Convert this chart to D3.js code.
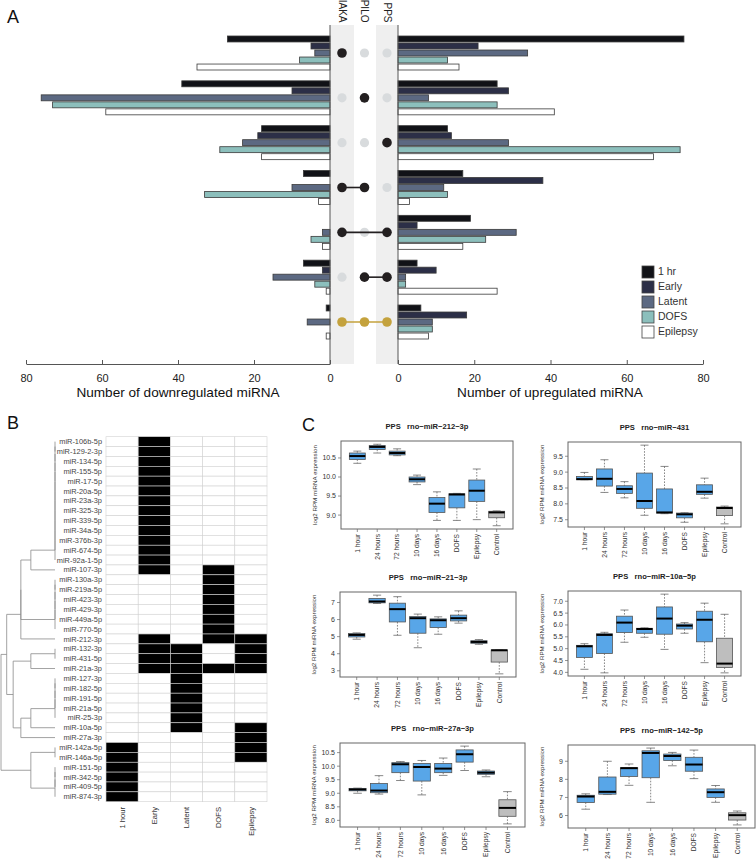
<!DOCTYPE html>
<html><head><meta charset="utf-8">
<script src="https://cdn.jsdelivr.net/npm/d3@7"></script>
<style>
body{margin:0;background:#fff}
svg{display:block}
text{font-family:"Liberation Sans",Arial,Helvetica,sans-serif}
</style>
</head><body>
<svg id="chart" width="756" height="863"></svg>
<script>
// ================= DATA =================
// Panel A
const groups = ["g1","g2","g3","g4","g5","g6","g7"];
const series = ["1 hr","Early","Latent","DOFS","Epilepsy"];
const models = ["IAKA","PILO","PPS"];
const downValues = [
  [27,5,4,8,35],
  [39,10,76,73,59],
  [18,19,23,29,18],
  [7,0,10,33,3],
  [0,0,2,5,2],
  [7,2,15,4,1],
  [1,0,6,0,1]
];
const upValues = [
  [75,21,34,13,16],
  [26,29,8,26,41],
  [13,14,29,74,67],
  [17,38,12,13,3],
  [19,5,31,23,17],
  [5,10,2,2,26],
  [6,18,9,9,8]
];
const membership = [[1,0,0],[0,1,0],[0,0,1],[1,1,0],[1,0,1],[0,1,1],[1,1,1]];
const axisTicks = [0,20,40,60,80];

// Panel B
const mirnas = ["miR-106b-5p","miR-129-2-3p","miR-134-5p","miR-155-5p","miR-17-5p","miR-20a-5p","miR-23a-3p",
  "miR-325-3p","miR-339-5p","miR-34a-5p","miR-376b-3p","miR-674-5p","miR-92a-1-5p","miR-107-3p","miR-130a-3p",
  "miR-219a-5p","miR-423-3p","miR-429-3p","miR-449a-5p","miR-770-5p","miR-212-3p","miR-132-3p","miR-431-5p",
  "miR-21a-3p","miR-127-3p","miR-182-5p","miR-191-5p","miR-21a-5p","miR-25-3p","miR-10a-5p","miR-27a-3p",
  "miR-142a-5p","miR-146a-5p","miR-151-5p","miR-342-5p","miR-409-5p","miR-874-3p"];
const stages = ["1 hour","Early","Latent","DOFS","Epilepsy"];
const presence = [
  [0,1,0,0,0],[0,1,0,0,0],[0,1,0,0,0],[0,1,0,0,0],[0,1,0,0,0],[0,1,0,0,0],[0,1,0,0,0],
  [0,1,0,0,0],[0,1,0,0,0],[0,1,0,0,0],[0,1,0,0,0],[0,1,0,0,0],[0,1,0,0,0],
  [0,1,0,1,0],
  [0,0,0,1,0],[0,0,0,1,0],[0,0,0,1,0],[0,0,0,1,0],[0,0,0,1,0],[0,0,0,1,0],
  [0,1,0,1,1],
  [0,1,1,0,1],[0,1,1,0,1],
  [0,1,1,1,1],
  [0,0,1,0,0],[0,0,1,0,0],[0,0,1,0,0],[0,0,1,0,0],[0,0,1,0,0],
  [0,0,1,0,1],
  [0,0,0,0,1],
  [1,0,0,0,1],[1,0,0,0,1],
  [1,0,0,0,0],[1,0,0,0,0],[1,0,0,0,0],[1,0,0,0,0]
];
// dendrogram: merge heights (euclidean distance), leaves are row indices; chain = identical rows
const dendrogram = {h:2.236, c:[
  {h:2, c:[
    {h:1.414, c:[
      {h:1.414, c:[ {h:1, c:[{chain:[0,1,2,3,4,5,6,7,8,9,10,11,12]}, 13]}, {chain:[14,15,16,17,18,19]} ]},
      20 ]},
    {h:1.732, c:[
      {h:1, c:[{chain:[21,22]}, 23]},
      {h:1.414, c:[ {h:1, c:[{chain:[24,25,26,27,28]}, 29]}, 30 ]}
    ]}
  ]},
  {h:1, c:[{chain:[31,32]}, {chain:[33,34,35,36]}]}
]};

// Panel C  (five-number summaries: lower whisker, Q1, median, Q3, upper whisker)
const timepoints = ["1 hour","24 hours","72 hours","10 days","16 days","DOFS","Epilepsy","Control"];
const mir212 = [[10.36,10.46,10.55,10.63,10.68],[10.63,10.72,10.79,10.83,10.86],[10.56,10.58,10.63,10.68,10.74],
  [9.80,9.87,9.94,10.00,10.05],[8.86,9.07,9.30,9.46,9.61],[8.86,9.19,9.54,9.56,9.57],[8.88,9.36,9.64,9.92,10.21],
  [8.72,8.93,9.07,9.10,9.11]];
const mir431 = [[8.76,8.76,8.78,8.86,8.99],[8.36,8.56,8.79,9.10,9.39],[8.19,8.33,8.47,8.57,8.70],
  [7.64,7.86,8.09,8.97,9.85],[7.69,7.71,7.73,8.47,9.18],[7.42,7.56,7.67,7.71,7.72],[8.18,8.30,8.38,8.60,8.81],
  [7.37,7.63,7.87,7.90,7.93]];
const mir21 = [[4.85,4.98,5.10,5.18,5.22],[6.94,6.98,7.06,7.24,7.43],[5.08,5.86,6.61,6.96,7.34],
  [4.35,5.20,6.08,6.18,6.32],[5.14,5.53,5.96,6.04,6.16],[5.79,5.92,6.08,6.26,6.51],[4.55,4.61,4.69,4.76,4.83],
  [2.82,3.51,4.20,4.22,4.22]];
const mir10a = [[4.13,4.63,5.10,5.14,5.21],[3.98,4.80,5.58,5.63,5.69],[5.27,5.68,6.10,6.37,6.63],
  [5.48,5.65,5.83,5.86,5.88],[4.97,5.61,6.27,6.76,7.30],[5.65,5.83,5.97,6.04,6.10],[4.41,5.29,6.22,6.58,6.92],
  [3.98,4.21,4.37,5.44,6.45]];
const mir27a = [[9.00,9.09,9.14,9.18,9.19],[8.97,9.02,9.10,9.36,9.65],[9.47,9.76,10.07,10.13,10.17],
  [8.94,9.45,9.97,10.10,10.21],[9.66,9.76,9.91,10.10,10.30],[9.84,10.15,10.44,10.60,10.74],[9.61,9.70,9.76,9.82,9.86],
  [7.87,8.15,8.46,8.76,9.06]];
const mir142 = [[6.35,6.72,7.05,7.12,7.20],[7.16,7.18,7.31,8.13,9.00],[7.67,8.16,8.62,8.64,8.85],
  [6.73,8.09,9.46,9.58,9.73],[8.75,9.04,9.29,9.40,9.49],[8.04,8.45,8.82,9.22,9.62],[6.73,7.00,7.29,7.47,7.66],
  [5.48,5.75,6.02,6.15,6.25]];
const ticks212 = [9.0,9.5,10.0,10.5];
const ticks431 = [7.5,8.0,8.5,9.0,9.5];
const ticks21 = [3,4,5,6,7];
const ticks10a = [4.0,4.5,5.0,5.5,6.0,6.5,7.0];
const ticks27a = [8.0,8.5,9.0,9.5,10.0,10.5];
const ticks142 = [6,7,8,9];

// ================= DRAWING =================
const svg = d3.select("#chart");
const palette = ["#111217","#2c2f47","#5c6982","#8cbfbc","#ffffff"];
const color = d3.scaleOrdinal().domain(series).range(palette);

// ---------- Panel A ----------
const gA = svg.append("g");
const xDown = d3.scaleLinear().domain([0,80]).range([330,26]);
const xUp = d3.scaleLinear().domain([0,80]).range([398,703]);
const gy = d3.scalePoint().domain(groups).range([53,322]);
const by = d3.scaleBand().domain(series).range([-17,17]).paddingInner(0.15);
const colX = d3.scalePoint().domain(models).range([342,387]);
const axisY = 364, topY = 25;

gA.append("rect").attr("x",330).attr("y",topY).attr("width",24).attr("height",axisY-topY).attr("fill","#efefef");
gA.append("rect").attr("x",376).attr("y",topY).attr("width",22).attr("height",axisY-topY).attr("fill","#efefef");

const barData = [];
groups.forEach((g,gi)=>series.forEach((s,si)=>{
  barData.push({g,s,v:downValues[gi][si],side:"down"});
  barData.push({g,s,v:upValues[gi][si],side:"up"});
}));
gA.selectAll("rect.bar").data(barData.filter(d=>d.v>0)).join("rect").attr("class","bar")
  .attr("x",d=>d.side==="down"?xDown(d.v):xUp(0))
  .attr("width",d=>d.side==="down"?xDown(0)-xDown(d.v):xUp(d.v)-xUp(0))
  .attr("y",d=>gy(d.g)+by(d.s))
  .attr("height",by.bandwidth())
  .attr("fill",d=>color(d.s))
  .attr("stroke","#3a3a3a").attr("stroke-width",0.8);

// vertical axis lines
[330,398].forEach(x=>gA.append("line").attr("x1",x).attr("x2",x).attr("y1",topY).attr("y2",axisY)
  .attr("stroke","#555").attr("stroke-width",1));

// dots
groups.forEach((g,gi)=>{
  const mem = membership[gi];
  const on = models.filter((m,mi)=>mem[mi]);
  const dotColor = on.length===3 ? "#c4a23d" : "#231f20";
  models.forEach((m,mi)=>{ if(!mem[mi]) gA.append("circle").attr("cx",colX(m)).attr("cy",gy(g)).attr("r",4.6).attr("fill","#d8dbdd"); });
  if(on.length>1){
    gA.append("line").attr("x1",colX(on[0])).attr("x2",colX(on[on.length-1])).attr("y1",gy(g)).attr("y2",gy(g))
      .attr("stroke",dotColor).attr("stroke-width",1.6);
  }
  on.forEach(m=>gA.append("circle").attr("cx",colX(m)).attr("cy",gy(g)).attr("r",4.8).attr("fill",dotColor));
});
// model labels
models.forEach(m=>gA.append("text").attr("transform",`translate(${colX(m)-3.5},22.5) rotate(90)`)
  .attr("text-anchor","end").attr("font-size",10).attr("fill","#222").text(m));

// axes
function styleAxis(sel){
  sel.select(".domain").attr("stroke","#555");
  sel.selectAll(".tick line").attr("stroke","#555");
  sel.selectAll(".tick text").attr("font-size",11).attr("fill","#222").attr("font-family",null);
}
gA.append("g").attr("transform",`translate(0,${axisY})`)
  .call(d3.axisBottom(xDown).tickValues(axisTicks).tickSizeInner(-4).tickSizeOuter(0).tickPadding(10)).call(styleAxis);
gA.append("g").attr("transform",`translate(0,${axisY})`)
  .call(d3.axisBottom(xUp).tickValues(axisTicks).tickSizeInner(-4).tickSizeOuter(0).tickPadding(10)).call(styleAxis);
gA.append("text").attr("x",178).attr("y",397).attr("text-anchor","middle").attr("font-size",13.6).attr("fill","#111")
  .text("Number of downregulated miRNA");
gA.append("text").attr("x",550).attr("y",397).attr("text-anchor","middle").attr("font-size",13.6).attr("fill","#111")
  .text("Number of upregulated miRNA");

// legend
const lg = gA.append("g");
series.forEach((s,i)=>{
  lg.append("rect").attr("x",642).attr("y",266+i*15).attr("width",12).attr("height",12)
    .attr("fill",color(s)).attr("stroke","#444").attr("stroke-width",0.8);
  lg.append("text").attr("x",658).attr("y",266+i*15+9).attr("font-size",10.5).attr("fill","#333").text(s);
});

// panel letters
[["A",7,23],["B",7,429],["C",302,431]].forEach(([t,x,y])=>
  svg.append("text").attr("x",x).attr("y",y).attr("font-size",18).attr("fill","#111").text(t));

// ---------- Panel B ----------
const gB = svg.append("g");
const rowB = d3.scaleBand().domain(mirnas).range([436.7,801.7]);
const colB = d3.scaleBand().domain(stages).range([106,267]);
const cells = [];
mirnas.forEach((r,i)=>stages.forEach((c,j)=>cells.push({r,c,v:presence[i][j]})));
gB.selectAll("rect.cell").data(cells).join("rect").attr("class","cell")
  .attr("x",d=>colB(d.c)).attr("y",d=>rowB(d.r)).attr("width",colB.bandwidth()).attr("height",rowB.bandwidth())
  .attr("fill",d=>d.v?"#000":"#fff").attr("stroke","#d2d2d2").attr("stroke-width",0.6);
gB.selectAll("text.row").data(mirnas).join("text").attr("class","row")
  .attr("x",102).attr("y",d=>rowB(d)+rowB.bandwidth()/2).attr("dy","0.35em")
  .attr("text-anchor","end").attr("font-size",7.4).attr("fill","#444").text(d=>d);
gB.selectAll("text.col").data(stages).join("text").attr("class","col")
  .attr("transform",d=>`translate(${colB(d)+colB.bandwidth()/2},807) rotate(-90)`).attr("dy","0.35em")
  .attr("text-anchor","end").attr("font-size",7.6).attr("fill","#333").text(d=>d);

// dendrogram
function toNode(d){
  if(typeof d==="number") return {h:0,leaf:d};
  if(d.chain){
    let n={h:0,leaf:d.chain[0]};
    for(let i=1;i<d.chain.length;i++) n={h:0,children:[n,{h:0,leaf:d.chain[i]}]};
    return n;
  }
  return {h:d.h,children:d.c.map(toNode)};
}
const root = d3.hierarchy(toNode(dendrogram), d=>d.children);
const hx = d3.scaleLinear().domain([0,2.236]).range([55,1]);
root.eachAfter(n=>{
  if(!n.children) n.py = rowB(mirnas[n.data.leaf])+rowB.bandwidth()/2;
  else n.py = d3.mean(n.children,c=>c.py);
});
const segs=[];
root.each(n=>{
  if(!n.children) return;
  const x = hx(n.data.h);
  segs.push([x,n.children[0].py,x,n.children[n.children.length-1].py]);
  n.children.forEach(c=>segs.push([x,c.py,hx(c.data.h),c.py]));
});
gB.selectAll("line.dend").data(segs).join("line").attr("class","dend")
  .attr("x1",d=>d[0]).attr("y1",d=>d[1]).attr("x2",d=>d[2]).attr("y2",d=>d[3])
  .attr("stroke","#8a8a8a").attr("stroke-width",0.8);

// ---------- Panel C ----------
function boxPlot(cfg){
  const g = svg.append("g");
  const [x0,y0,x1,y1] = cfg.frame;
  const n = timepoints.length;
  const x = d3.scaleLinear().domain([0.5-0.04*n, n+0.5+0.04*n]).range([x0,x1]);
  const lo = d3.min(cfg.data,d=>d[0]), hi = d3.max(cfg.data,d=>d[4]);
  const pad = (hi-lo)*0.04;
  const y = d3.scaleLinear().domain([lo-pad,hi+pad]).range([y1,y0]);
  const bw = x(1.4)-x(1), cw = x(1.2)-x(1);
  cfg.data.forEach((d,i)=>{
    const cx = x(i+1);
    const ctrl = timepoints[i]==="Control";
    g.append("line").attr("x1",cx).attr("x2",cx).attr("y1",y(d[4])).attr("y2",y(d[3]))
      .attr("stroke","#555").attr("stroke-width",0.7).attr("stroke-dasharray","1.6,1.4");
    g.append("line").attr("x1",cx).attr("x2",cx).attr("y1",y(d[1])).attr("y2",y(d[0]))
      .attr("stroke","#555").attr("stroke-width",0.7).attr("stroke-dasharray","1.6,1.4");
    [d[0],d[4]].forEach(v=>g.append("line").attr("x1",cx-cw).attr("x2",cx+cw).attr("y1",y(v)).attr("y2",y(v))
      .attr("stroke","#555").attr("stroke-width",0.7));
    g.append("rect").attr("x",cx-bw).attr("width",2*bw).attr("y",y(d[3])).attr("height",Math.max(0.5,y(d[1])-y(d[3])))
      .attr("fill",ctrl?"#bebebe":"#58a6e8").attr("stroke","#555").attr("stroke-width",0.8);
    g.append("line").attr("x1",cx-bw).attr("x2",cx+bw).attr("y1",y(d[2])).attr("y2",y(d[2]))
      .attr("stroke","#000").attr("stroke-width",2);
  });
  g.append("rect").attr("x",x0).attr("y",y0).attr("width",x1-x0).attr("height",y1-y0)
    .attr("fill","none").attr("stroke","#666").attr("stroke-width",1);
  // y axis
  cfg.ticks.forEach(t=>{
    g.append("line").attr("x1",x0-3).attr("x2",x0).attr("y1",y(t)).attr("y2",y(t)).attr("stroke","#666").attr("stroke-width",0.7);
    g.append("text").attr("x",x0-5).attr("y",y(t)).attr("dy","0.35em").attr("text-anchor","end")
      .attr("font-size",7).attr("fill","#333").text(cfg.fmt(t));
  });
  // x axis
  timepoints.forEach((t,i)=>{
    const cx=x(i+1);
    g.append("line").attr("x1",cx).attr("x2",cx).attr("y1",y1).attr("y2",y1+3).attr("stroke","#666").attr("stroke-width",0.7);
    g.append("text").attr("transform",`translate(${cx},${y1+5}) rotate(-90)`).attr("dy","0.35em")
      .attr("text-anchor","end").attr("font-size",6.6).attr("fill","#333").text(t);
  });
  g.append("text").attr("transform",`translate(${x0-26},${(y0+y1)/2}) rotate(-90)`).attr("dy","0.35em")
    .attr("text-anchor","middle").attr("font-size",6.2).attr("fill","#333").text("log2 RPM miRNA expression");
  g.append("text").attr("x",(x0+x1)/2).attr("y",y0-12).attr("text-anchor","middle")
    .attr("font-size",7.6).attr("font-weight","bold").attr("fill","#222").style("white-space","pre").text(cfg.title);
}
const f1 = d3.format(".1f"), f0 = d3.format("d");
boxPlot({data:mir212, ticks:ticks212, fmt:f1, title:"PPS   rno\u2212miR\u2212212\u22123p", frame:[341,441,513,529]});
boxPlot({data:mir431, ticks:ticks431, fmt:f1, title:"PPS   rno\u2212miR\u2212431", frame:[568,442,741,527]});
boxPlot({data:mir21, ticks:ticks21, fmt:f0, title:"PPS   rno\u2212miR\u221221\u22123p", frame:[340,592,516,677]});
boxPlot({data:mir10a, ticks:ticks10a, fmt:f1, title:"PPS   rno\u2212miR\u221210a\u22125p", frame:[568,591,741,676]});
boxPlot({data:mir27a, ticks:ticks27a, fmt:f1, title:"PPS   rno\u2212miR\u221227a\u22123p", frame:[340,743,525,827]});
boxPlot({data:mir142, ticks:ticks142, fmt:f0, title:"PPS   rno\u2212miR\u2212142\u22125p", frame:[568,745,755,828]});
</script>
</body></html>
